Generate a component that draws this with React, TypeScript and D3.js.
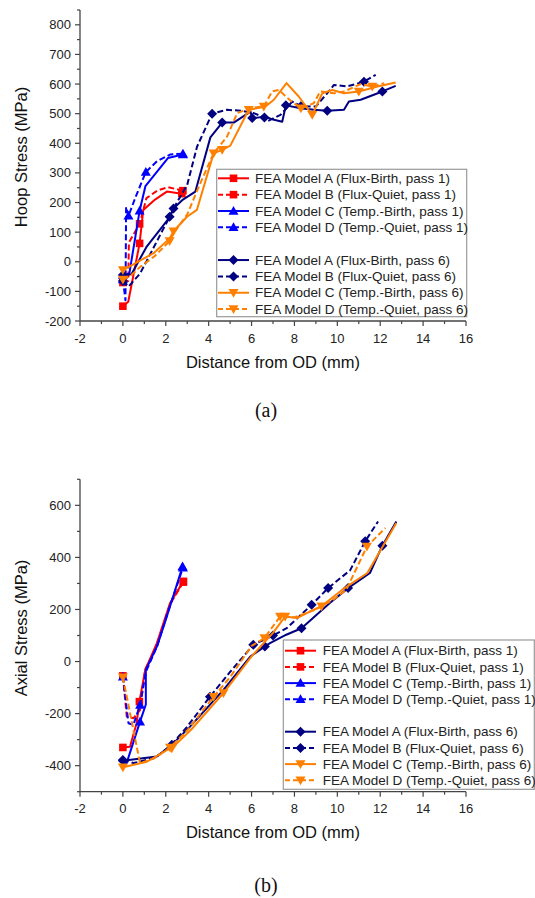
import React from 'react';
import * as d3 from 'd3';

type P = [number, number];

const xTicks = [-2, 0, 2, 4, 6, 8, 10, 12, 14, 16];
const hoopTicks = [-200, -100, 0, 100, 200, 300, 400, 500, 600, 700, 800];
const axialTicks = [-400, -200, 0, 200, 400, 600];

const legendLabels = [
  'FEA Model A (Flux-Birth, pass 1)',
  'FEA Model B (Flux-Quiet, pass 1)',
  'FEA Model C (Temp.-Birth, pass 1)',
  'FEA Model D (Temp.-Quiet, pass 1)',
  'FEA Model A (Flux-Birth, pass 6)',
  'FEA Model B (Flux-Quiet, pass 6)',
  'FEA Model C (Temp.-Birth, pass 6)',
  'FEA Model D (Temp.-Quiet, pass 6)',
];

// ---------- Hoop stress (a) ----------
const hoopA1: P[] = [[0, -150], [0.25, -135], [0.78, 62], [0.95, 175], [1.5, 210], [2.05, 237], [2.75, 230]];
const hoopB1: P[] = [[0, -70], [0.25, -65], [0.28, 65], [0.78, 128], [1.1, 215], [1.6, 240], [2.1, 252], [2.8, 240]];
const hoopC1: P[] = [[0, -45], [0.3, -40], [0.78, 172], [1.05, 255], [2.1, 350], [2.8, 362]];
const hoopD1: P[] = [[0, -60], [0.12, -130], [0.15, 185], [0.26, 155], [0.6, 220], [1.07, 303], [1.6, 340], [2.2, 362], [2.8, 365]];
const hoopA6: P[] = [[0, -45], [0.4, -42], [1.1, 50], [2.18, 150], [2.36, 180], [2.8, 210], [3.38, 237], [4.08, 420], [4.63, 470], [5.17, 470], [5.95, 507], [6.03, 485], [6.65, 490], [7.0, 480], [7.43, 473], [7.6, 528], [8.29, 518], [8.9, 513], [9.53, 510], [10.31, 513], [10.54, 541], [11.09, 547], [12.1, 575], [12.72, 594]];
const hoopB6: P[] = [[0, -65], [0.26, -84], [0.8, -40], [2.18, 152], [2.36, 180], [3.0, 260], [3.46, 389], [4.16, 500], [4.86, 513], [5.5, 510], [6.1, 502], [6.6, 487], [6.75, 475], [7.35, 496], [7.9, 541], [8.3, 525], [8.99, 524], [9.6, 575], [9.84, 597], [10.46, 592], [11.24, 608], [11.79, 631]];
const hoopC6: P[] = [[0, -28], [1.43, 29], [2.18, 79], [2.36, 103], [2.99, 152], [3.45, 175], [4.23, 366], [4.63, 378], [5.01, 392], [5.87, 513], [6.65, 524], [7.04, 547], [7.63, 603], [8.2, 558], [8.83, 496], [9.3, 569], [9.77, 580], [10.31, 569], [11.0, 575], [11.87, 592], [12.72, 605]];
const hoopD6: P[] = [[0, -60], [0.4, -45], [0.81, -17], [1.5, 20], [2.18, 70], [2.4, 100], [3.0, 160], [3.61, 265], [4.23, 366], [4.86, 423], [5.33, 502], [6.0, 520], [6.57, 524], [6.96, 575], [7.27, 580], [7.8, 545], [8.3, 518], [8.9, 535], [9.2, 575], [9.84, 569], [10.31, 575], [11.09, 600], [11.63, 592], [12.18, 603]];

const hoopSeries = [hoopA1, hoopB1, hoopC1, hoopD1, hoopA6, hoopB6, hoopC6, hoopD6];
const hoopMarks = [
  [0, 2, 6],
  [0, 3, 7],
  [0, 2, 5],
  [0, 3, 5, 8],
  [0, 4, 8, 11, 15, 18, 22],
  [0, 3, 7, 11, 15, 20],
  [0, 3, 7, 9, 14, 18],
  [0, 4, 8, 12, 16, 22],
];

// ---------- Axial stress (b) ----------
const axA1: P[] = [[0, -330], [0.33, -327], [0.64, -237], [0.77, -154], [1.04, -33], [1.58, 70], [2.2, 225], [2.82, 308]];
const axB1: P[] = [[0, -55], [0.18, -211], [0.49, -218], [0.8, -187], [1.04, -30], [1.58, 60], [2.2, 220], [2.82, 305]];
const axC1: P[] = [[0, -405], [0.17, -391], [0.8, -231], [1.07, -165], [1.07, -32], [1.6, 60], [2.05, 173], [2.78, 365]];
const axD1: P[] = [[0, -58], [0.26, -237], [0.49, -243], [0.8, -167], [1.07, -40], [1.6, 60], [2.1, 190], [2.8, 360]];
const axA6: P[] = [[0, -381], [1.58, -365], [2.28, -320], [3.13, -250], [4.69, -109], [5.94, 19], [6.62, 58], [6.86, 71], [7.62, 103], [8.33, 128], [9.65, 225], [10.5, 282], [11.52, 340], [12.1, 445], [12.75, 538]];
const axB6: P[] = [[0, -378], [0.5, -390], [1.5, -370], [2.2, -325], [3.0, -250], [4.06, -135], [5.0, -40], [6.08, 64], [7.0, 100], [7.64, 128], [8.8, 218], [9.57, 282], [10.6, 351], [11.3, 462], [11.9, 538]];
const axC6: P[] = [[0, -406], [1.12, -385], [2.05, -340], [2.28, -333], [3.2, -260], [4.69, -121], [6.0, 20], [7.0, 110], [7.57, 173], [8.12, 167], [8.9, 199], [9.26, 212], [10.23, 276], [11.4, 340], [12.75, 532]];
const axD6: P[] = [[0, -60], [0.8, -391], [1.5, -370], [2.2, -330], [3.0, -265], [4.23, -135], [5.0, -60], [6.0, 60], [6.6, 90], [7.33, 173], [8.0, 170], [9.0, 200], [9.8, 237], [10.42, 276], [11.38, 442], [12.24, 513]];

const axialSeries = [axA1, axB1, axC1, axD1, axA6, axB6, axC6, axD6];
const axialMarks = [
  [0, 3, 7],
  [0, 7],
  [2, 7],
  [0, 3, 7],
  [0, 2, 6, 9, 11, 13],
  [0, 5, 7, 8, 10, 11, 13],
  [0, 3, 5, 8, 11],
  [0, 3, 5, 8, 9, 14],
];

const colors = ['#ff0000', '#ff0000', '#0000ff', '#0000ff', '#000080', '#000080', '#ff8000', '#ff8000'];
const dashed = [false, true, false, true, false, true, false, true];
const shapes = ['square', 'square', 'up', 'up', 'diamond', 'diamond', 'down', 'down'];

const FONT = '"Liberation Sans", Arial, sans-serif';

function markerPath(cx: number, cy: number, shape: string): string {
  if (shape === 'square') {
    const s = 3.8;
    return `M${cx - s},${cy - s}H${cx + s}V${cy + s}H${cx - s}Z`;
  }
  if (shape === 'diamond') {
    const s = 5;
    return `M${cx},${cy - s}L${cx + s},${cy}L${cx},${cy + s}L${cx - s},${cy}Z`;
  }
  if (shape === 'up') {
    const s = 5;
    return `M${cx},${cy - s}L${cx + s},${cy + s * 0.75}L${cx - s},${cy + s * 0.75}Z`;
  }
  const s = 5;
  return `M${cx},${cy + s}L${cx + s},${cy - s * 0.75}L${cx - s},${cy - s * 0.75}Z`;
}

type ChartProps = {
  series: P[][];
  marks: number[][];
  yDomain: [number, number];
  yRange: [number, number];
  yTicks: number[];
  yMinorStep: number;
  yTitle: string;
  yTitleCenter: number;
  legend: { x0: number; y0: number; x1: number; y1: number; rowY: number; rowStep: number; lineX0: number; lineX1: number; textX: number };
  caption: string;
  captionY: number;
};

function Chart(p: ChartProps) {
  const x = d3.scaleLinear().domain([-2, 16]).range([80, 466]);
  const y = d3.scaleLinear().domain(p.yDomain).range(p.yRange);
  const axisY = p.yRange[0];
  const line = d3.line<P>().x((d) => x(d[0])).y((d) => y(d[1]));
  const yMinor = d3.range(p.yDomain[0], p.yDomain[1] + 0.001, p.yMinorStep).filter((v) => !p.yTicks.includes(v));
  const xMinor = d3.range(-1, 16, 2);
  const axisColor = '#444';
  const rows = [0, 1, 2, 3, 5, 6, 7, 8];
  const L = p.legend;
  return (
    <g>
      {p.series.map((s, i) => (
        <g key={i}>
          <path d={line(s) || ''} fill="none" stroke={colors[i]} strokeWidth={2} strokeDasharray={dashed[i] ? '6,3' : undefined} strokeLinejoin="round" />
          {p.marks[i].map((k) => (
            <path key={k} d={markerPath(x(s[k][0]), y(s[k][1]), shapes[i])} fill={colors[i]} />
          ))}
        </g>
      ))}
      <line x1={80} x2={80} y1={p.yRange[1]} y2={axisY} stroke={axisColor} strokeWidth={1.3} />
      <line x1={80} x2={466} y1={axisY} y2={axisY} stroke={axisColor} strokeWidth={1.3} />
      {p.yTicks.map((t) => (
        <g key={t}>
          <line x1={75} x2={80} y1={y(t)} y2={y(t)} stroke={axisColor} strokeWidth={1.2} />
          <text x={71} y={y(t)} dy="0.35em" textAnchor="end" fontSize={13} fontFamily={FONT} fill="#222">{t}</text>
        </g>
      ))}
      {yMinor.map((t) => (
        <line key={t} x1={77} x2={80} y1={y(t)} y2={y(t)} stroke={axisColor} strokeWidth={1.2} />
      ))}
      {xTicks.map((t) => (
        <g key={t}>
          <line x1={x(t)} x2={x(t)} y1={axisY} y2={axisY + 5} stroke={axisColor} strokeWidth={1.2} />
          <text x={x(t)} y={axisY + 17} dy="0.35em" textAnchor="middle" fontSize={13} fontFamily={FONT} fill="#222">{t}</text>
        </g>
      ))}
      {xMinor.map((t) => (
        <line key={t} x1={x(t)} x2={x(t)} y1={axisY} y2={axisY + 3} stroke={axisColor} strokeWidth={1.2} />
      ))}
      <text x={273} y={axisY + 41} dy="0.35em" textAnchor="middle" fontSize={16.5} fontFamily={FONT} fill="#111">Distance from OD (mm)</text>
      <text transform={`translate(21,${p.yTitleCenter}) rotate(-90)`} dy="0.35em" textAnchor="middle" fontSize={16.5} fontFamily={FONT} fill="#111">{p.yTitle}</text>
      <rect x={L.x0} y={L.y0} width={L.x1 - L.x0} height={L.y1 - L.y0} fill="#fff" stroke="#999" strokeWidth={1.2} />
      {legendLabels.map((lab, i) => {
        const ry = L.rowY + rows[i] * L.rowStep;
        const mx = (L.lineX0 + L.lineX1) / 2;
        return (
          <g key={i}>
            <line x1={L.lineX0} x2={L.lineX1} y1={ry} y2={ry} stroke={colors[i]} strokeWidth={2} strokeDasharray={dashed[i] ? '5,3' : undefined} />
            <path d={markerPath(mx, ry, shapes[i])} fill={colors[i]} />
            <text x={L.textX} y={ry} dy="0.35em" fontSize={13.5} fontFamily={FONT} fill="#222">{lab}</text>
          </g>
        );
      })}
      <text x={266} y={p.captionY} dy="0.35em" textAnchor="middle" fontSize={20} fontFamily='"Liberation Serif", "Times New Roman", serif' fill="#111">{p.caption}</text>
    </g>
  );
}

export default function App() {
  return (
    <svg width={535} height={898} style={{ position: 'absolute', left: 0, top: 0, background: '#fff' }}>
      <rect x={0} y={0} width={535} height={898} fill="#fff" />
      <Chart
        series={hoopSeries}
        marks={hoopMarks}
        yDomain={[-200, 850]}
        yRange={[321, 10]}
        yTicks={hoopTicks}
        yMinorStep={50}
        yTitle="Hoop Stress (MPa)"
        yTitleCenter={157}
        legend={{ x0: 216.7, y0: 169.3, x1: 466.7, y1: 316.7, rowY: 178.3, rowStep: 16.35, lineX0: 218, lineX1: 249, textX: 255 }}
        caption="(a)"
        captionY={410}
      />
      <Chart
        series={axialSeries}
        marks={axialMarks}
        yDomain={[-500, 700]}
        yRange={[791.7, 479.3]}
        yTicks={axialTicks}
        yMinorStep={100}
        yTitle="Axial Stress (MPa)"
        yTitleCenter={628}
        legend={{ x0: 283.3, y0: 640, x1: 534.3, y1: 789.3, rowY: 650.7, rowStep: 16.2, lineX0: 285, lineX1: 316, textX: 322.7 }}
        caption="(b)"
        captionY={885}
      />
    </svg>
  );
}
